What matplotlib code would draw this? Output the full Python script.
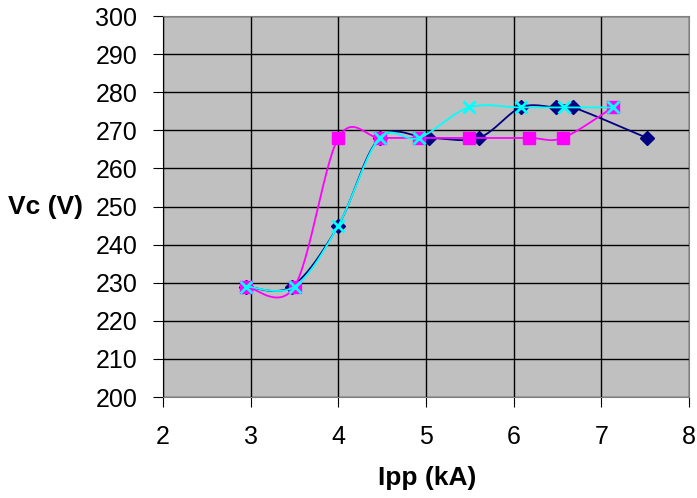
import numpy as np
import matplotlib
matplotlib.use("Agg")
import matplotlib.pyplot as plt

# Data
navy_x = [2.95, 3.47, 4.0, 4.47, 5.03, 5.6, 6.08, 6.48, 6.68, 7.52]
navy_y = [229, 229, 245, 268, 268, 268, 276, 276, 276, 268]
mag_x = [2.95, 3.5, 4.0, 4.47, 4.92, 5.49, 6.17, 6.56, 7.13]
mag_y = [229, 229, 268, 268, 268, 268, 268, 268, 276]
cyan_x = [2.95, 3.5, 4.0, 4.47, 4.92, 5.49, 6.08, 6.57, 7.13]
cyan_y = [229, 229, 245, 268, 268, 276, 276, 276, 276]

x_ticks = [2, 3, 4, 5, 6, 7, 8]
y_ticks = list(range(200, 301, 10))


def smooth(xs, ys, n=30):
    """Excel-style smoothed line (Catmull-Rom Bezier)."""
    P = np.column_stack([xs, ys]).astype(float)
    Pe = np.vstack([P[0], P, P[-1]])
    out = []
    t = np.linspace(0, 1, n)[:, None]
    for i in range(len(P) - 1):
        p0, p1, p2, p3 = Pe[i], Pe[i + 1], Pe[i + 2], Pe[i + 3]
        c1 = p1 + (p2 - p0) / 6
        c2 = p2 - (p3 - p1) / 6
        seg = ((1 - t) ** 3) * p1 + 3 * ((1 - t) ** 2) * t * c1 + 3 * (1 - t) * t ** 2 * c2 + t ** 3 * p2
        out.append(seg if i == 0 else seg[1:])
    s = np.vstack(out)
    return s[:, 0], s[:, 1]


plt.rcParams['font.family'] = ['Liberation Sans', 'DejaVu Sans']
fig = plt.figure(figsize=(6.97, 4.98), dpi=100)
ax = fig.add_axes([163 / 697, 101 / 498, 526 / 697, 381 / 498])
ax.set_facecolor('#C0C0C0')

series = [
    (navy_x, navy_y, '#000080', 'D', 7, 3),
    (mag_x, mag_y, '#FF00FF', 's', 8, 4),
    (cyan_x, cyan_y, '#00FFFF', 'x', 8, 5),
]
for xs, ys, c, m, ms, z in series:
    sx, sy = smooth(xs, ys)
    ax.plot(sx, sy, color=c, lw=1.3, zorder=z)
    ax.plot(xs, ys, linestyle='none', marker=m, color=c, ms=ms,
            mew=2 if m == 'x' else 1, zorder=z)

ax.set_xlim(2, 8)
ax.set_ylim(200, 300)
ax.set_xticks(x_ticks)
ax.set_yticks(y_ticks)
ax.grid(True, color='black', lw=1)
ax.set_axisbelow(True)
for s in ['top', 'right']:
    ax.spines[s].set_color('#808080')
ax.spines['left'].set_color('black')
ax.spines['bottom'].set_color('#808080')
ax.tick_params(axis='y', length=7, pad=11.5, labelsize=18, direction='out')
ax.tick_params(axis='x', length=7, pad=13, labelsize=18, direction='out')

fig.text(427 / 697, 1 - 478 / 498, 'Ipp (kA)', fontsize=19, fontweight='bold',
         ha='center', va='center')
fig.text(45 / 697, 1 - 207 / 498, 'Vc (V)', fontsize=19, fontweight='bold',
         ha='center', va='center')

fig.savefig('out.png', dpi=100)
